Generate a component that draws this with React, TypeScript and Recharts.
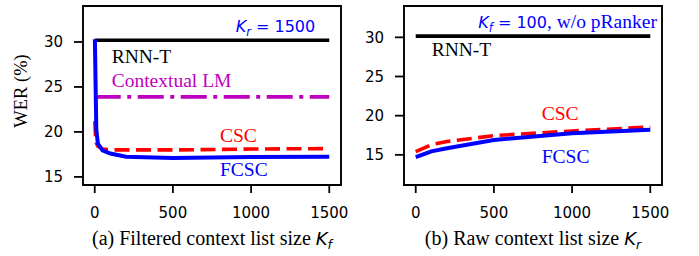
import React from 'react';
import { LineChart, Line, XAxis, YAxis, ReferenceArea } from 'recharts';

// ---- data ----
const xTicks = [0, 500, 1000, 1500];
const yTicks = [15, 20, 25, 30];

// (a) Filtered context list size K_f (K_r = 1500)
const aRnnt = [
  { x: 0, y: 30.2 },
  { x: 1500, y: 30.2 },
];
const aContextualLM = [
  { x: 0, y: 23.9 },
  { x: 1500, y: 23.9 },
];
const aCSC = [
  { x: 1, y: 21.2 },
  { x: 5, y: 19.5 },
  { x: 10, y: 18.8 },
  { x: 20, y: 18.4 },
  { x: 50, y: 18.1 },
  { x: 100, y: 18.0 },
  { x: 200, y: 18.0 },
  { x: 500, y: 18.0 },
  { x: 1000, y: 18.1 },
  { x: 1500, y: 18.15 },
];
const aFCSC = [
  { x: 1, y: 30.3 },
  { x: 10, y: 20.3 },
  { x: 20, y: 18.7 },
  { x: 50, y: 17.95 },
  { x: 100, y: 17.6 },
  { x: 200, y: 17.25 },
  { x: 500, y: 17.1 },
  { x: 1000, y: 17.2 },
  { x: 1500, y: 17.25 },
];

// (b) Raw context list size K_r (K_f = 100, w/o pRanker)
const bRnnt = [
  { x: 0, y: 30.15 },
  { x: 1500, y: 30.15 },
];
const bCSC = [
  { x: 0, y: 15.4 },
  { x: 100, y: 16.3 },
  { x: 200, y: 16.7 },
  { x: 500, y: 17.45 },
  { x: 1000, y: 18.05 },
  { x: 1500, y: 18.55 },
];
const bFCSC = [
  { x: 0, y: 14.7 },
  { x: 100, y: 15.45 },
  { x: 200, y: 15.85 },
  { x: 500, y: 16.9 },
  { x: 1000, y: 17.75 },
  { x: 1500, y: 18.2 },
];

const X_DOMAIN: [number, number] = [-75, 1575];
const A_Y_DOMAIN: [number, number] = [14.1, 34.0];
const B_Y_DOMAIN: [number, number] = [11.15, 34.0];

const BLUE = '#0000ff';
const RED = '#ff0000';
const MAGENTA = '#bf00bf';
const SERIF = '"Liberation Serif", "Times New Roman", serif';
const SANS = '"DejaVu Sans", sans-serif';

const tickStyle = { fontFamily: SANS, fontSize: 15, fill: '#000' };

function Panel(props: {
  yDomain: [number, number];
  margin: { top: number; right: number; bottom: number; left: number };
  yWidth: number;
  width: number;
  children: React.ReactNode;
}) {
  const { yDomain, margin, yWidth, width, children } = props;
  return (
    <LineChart width={width} height={256} margin={margin}>
      <XAxis
        type="number"
        dataKey="x"
        domain={X_DOMAIN}
        ticks={xTicks}
        allowDataOverflow
        height={40}
        tickSize={8}
        tickMargin={14}
        axisLine={false}
        tickLine={{ stroke: '#000', strokeWidth: 1.8 }}
        tick={tickStyle}
        interval={0}
      />
      <YAxis
        type="number"
        domain={yDomain}
        ticks={yTicks}
        allowDataOverflow
        width={yWidth}
        tickSize={9}
        tickMargin={11}
        axisLine={false}
        tickLine={{ stroke: '#000', strokeWidth: 1.8 }}
        tick={tickStyle}
        interval={0}
      />
      <ReferenceArea
        x1={X_DOMAIN[0]}
        x2={X_DOMAIN[1]}
        y1={yDomain[0]}
        y2={yDomain[1]}
        fill="none"
        fillOpacity={0}
        stroke="#000"
        strokeWidth={1.9}
      />
      {children}
    </LineChart>
  );
}

export default function App() {
  return (
    <div
      style={{
        position: 'absolute',
        left: 0,
        top: 0,
        width: 699,
        height: 256,
        background: '#fff',
        overflow: 'hidden',
      }}
    >
      <div style={{ position: 'absolute', left: 0, top: 0 }}>
        <Panel
          width={350}
          yDomain={A_Y_DOMAIN}
          yWidth={60}
          margin={{ top: 6, right: 9, bottom: 31, left: 23 }}
        >
          <Line data={aRnnt} dataKey="y" stroke="#000" strokeWidth={3.6} dot={false} isAnimationActive={false} />
          <Line
            data={aContextualLM}
            dataKey="y"
            stroke={MAGENTA}
            strokeWidth={3.6}
            strokeDasharray="26 6.5 4 6.5"
            dot={false}
            isAnimationActive={false}
          />
          <Line
            data={aCSC}
            dataKey="y"
            stroke={RED}
            strokeWidth={3.6}
            strokeDasharray="15 6.5"
            dot={false}
            isAnimationActive={false}
          />
          <Line data={aFCSC} dataKey="y" stroke={BLUE} strokeWidth={4} dot={false} isAnimationActive={false} />
        </Panel>
      </div>
      <div style={{ position: 'absolute', left: 350, top: 0 }}>
        <Panel
          width={349}
          yDomain={B_Y_DOMAIN}
          yWidth={40}
          margin={{ top: 6, right: 37, bottom: 31, left: 14 }}
        >
          <Line data={bRnnt} dataKey="y" stroke="#000" strokeWidth={3.6} dot={false} isAnimationActive={false} />
          <Line
            data={bCSC}
            dataKey="y"
            stroke={RED}
            strokeWidth={3.6}
            strokeDasharray="15 6.5"
            dot={false}
            isAnimationActive={false}
          />
          <Line data={bFCSC} dataKey="y" stroke={BLUE} strokeWidth={4} dot={false} isAnimationActive={false} />
        </Panel>
      </div>
      <svg
        width={699}
        height={256}
        style={{ position: 'absolute', left: 0, top: 0, pointerEvents: 'none' }}
      >
        {/* left panel annotations */}
        <text x={235.7} y={31.7} fill={BLUE} fontFamily={SANS} fontSize={16}>
          <tspan fontStyle="italic">K</tspan>
          <tspan fontStyle="italic" fontSize={11.5} dy={4}>r</tspan>
          <tspan dy={-4}> = 1500</tspan>
        </text>
        <text x={111.7} y={63.3} fill="#000" fontFamily={SERIF} fontSize={19.5}>RNN-T</text>
        <text x={111.7} y={87.3} fill={MAGENTA} fontFamily={SERIF} fontSize={19.5}>Contextual LM</text>
        <text x={220} y={141.7} fill={RED} fontFamily={SERIF} fontSize={19.5}>CSC</text>
        <text x={220} y={175.7} fill={BLUE} fontFamily={SERIF} fontSize={19.5}>FCSC</text>
        <text
          x={27}
          y={91}
          transform="rotate(-90 27 91)"
          textAnchor="middle"
          fill="#000"
          fontFamily={SERIF}
          fontSize={18.5}
        >
          WER (%)
        </text>
        <text x={212} y={245} textAnchor="middle" fill="#000" fontFamily={SERIF} fontSize={20}>
          (a) Filtered context list size{' '}
          <tspan fontFamily={SANS} fontStyle="italic" fontSize={18}>K</tspan>
          <tspan fontFamily={SANS} fontStyle="italic" fontSize={12.5} dy={4}>f</tspan>
        </text>

        {/* right panel annotations */}
        <text x={478.3} y={28.3} fill={BLUE} fontFamily={SANS} fontSize={16}>
          <tspan fontStyle="italic">K</tspan>
          <tspan fontStyle="italic" fontSize={11.5} dy={4}>f</tspan>
          <tspan dy={-4}> = 100</tspan>
          <tspan fontFamily={SERIF} fontSize={19.5}>, w/o pRanker</tspan>
        </text>
        <text x={431.7} y={55.7} fill="#000" fontFamily={SERIF} fontSize={19.5}>RNN-T</text>
        <text x={541.7} y={120} fill={RED} fontFamily={SERIF} fontSize={19.5}>CSC</text>
        <text x={541.7} y={163.3} fill={BLUE} fontFamily={SERIF} fontSize={19.5}>FCSC</text>
        <text x={533} y={245} textAnchor="middle" fill="#000" fontFamily={SERIF} fontSize={20}>
          (b) Raw context list size{' '}
          <tspan fontFamily={SANS} fontStyle="italic" fontSize={18}>K</tspan>
          <tspan fontFamily={SANS} fontStyle="italic" fontSize={12.5} dy={4}>r</tspan>
        </text>
      </svg>
    </div>
  );
}
